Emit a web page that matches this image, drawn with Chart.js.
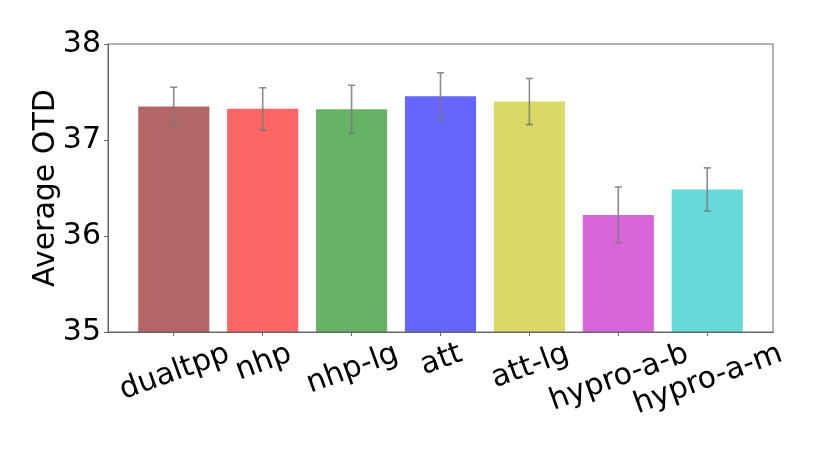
<!DOCTYPE html>
<html>
<head>
<meta charset="utf-8">
<script src="https://cdn.jsdelivr.net/npm/chart.js@4"></script>
<style>
  html, body { margin: 0; padding: 0; background: #fff; }
  #wrap { width: 822px; height: 457px; position: relative; }
</style>
</head>
<body>
<div id="wrap"><canvas id="chart"></canvas></div>
<script>
const models = ['dualtpp', 'nhp', 'nhp-lg', 'att', 'att-lg', 'hypro-a-b', 'hypro-a-m'];
const avgOtd = [37.35, 37.325, 37.32, 37.455, 37.40, 36.22, 36.485];
const otdErr = [0.20, 0.22, 0.25, 0.245, 0.24, 0.29, 0.225];
const barColors = ['#b36666', '#ff6666', '#66b366', '#6666ff', '#d9d966', '#d966d9', '#66d9d9'];
const yTicks = [35, 36, 37, 38];

const FONT = "'DejaVu Sans', sans-serif";
const FONT_SIZE = 30;
const AXIS_COLOR = '#666666';

/* ── error bars + frame ─────────────────────────────────────────── */
const errorBars = {
  id: 'errorBars',
  afterDatasetsDraw(chart) {
    const { ctx, scales: { x, y } } = chart;
    ctx.save();
    ctx.strokeStyle = 'rgba(120,120,120,0.85)';
    ctx.lineWidth = 1.6;
    avgOtd.forEach((v, i) => {
      const px = x.getPixelForValue(i);
      const top = y.getPixelForValue(v + otdErr[i]);
      const bot = y.getPixelForValue(v - otdErr[i]);
      ctx.beginPath();
      ctx.moveTo(px, top); ctx.lineTo(px, bot);
      ctx.moveTo(px - 3.5, top); ctx.lineTo(px + 3.5, top);
      ctx.moveTo(px - 3.5, bot); ctx.lineTo(px + 3.5, bot);
      ctx.stroke();
    });
    ctx.restore();
  },
  afterDraw(chart) {
    const { ctx, chartArea: a } = chart;
    ctx.save();
    ctx.strokeStyle = AXIS_COLOR;
    ctx.lineWidth = 1;
    ctx.strokeRect(a.left, a.top, a.right - a.left, a.bottom - a.top);
    ctx.restore();
  },
};

/* ── rotated category labels (centred like matplotlib rotation=20) ── */
const rotatedLabels = {
  id: 'rotatedLabels',
  afterDraw(chart) {
    const { ctx, scales: { x } } = chart;
    const fs = FONT_SIZE;
    const rot = 20 * Math.PI / 180;
    const h = fs * 1.164;
    const top = chart.chartArea.bottom + 2;
    ctx.save();
    ctx.font = `${fs}px ${FONT}`;
    ctx.fillStyle = '#000';
    ctx.textAlign = 'center';
    ctx.textBaseline = 'alphabetic';
    models.forEach((m, i) => {
      const w = ctx.measureText(m).width;
      const H = w * Math.sin(rot) + h * Math.cos(rot);
      const cx = x.getPixelForValue(i);
      const cy = top + H / 2;
      ctx.save();
      ctx.translate(cx, cy);
      ctx.rotate(-rot);
      ctx.fillText(m, 0, fs * 0.346);
      ctx.restore();
    });
    ctx.restore();
  },
};

new Chart(document.getElementById('chart'), {
  type: 'bar',
  data: {
    datasets: [{
      data: avgOtd.map((v, i) => ({ x: i, y: v })),
      backgroundColor: barColors,
      borderWidth: 0,
      barPercentage: 0.8,
      categoryPercentage: 1,
    }],
  },
  options: {
    responsive: true,
    maintainAspectRatio: false,
    animation: false,
    layout: { padding: { top: 44, right: 49, left: 0, bottom: 0 } },
    plugins: { legend: { display: false }, tooltip: { enabled: false } },
    scales: {
      x: {
        type: 'linear',
        offset: false,
        min: -0.74,
        max: 6.74,
        afterBuildTicks: s => { s.ticks = models.map((_, i) => ({ value: i })); },
        afterFit: s => { s.height = 125; },
        ticks: { callback: () => '' },
        grid: { drawOnChartArea: false, offset: false, tickLength: 4, color: AXIS_COLOR },
        border: { color: AXIS_COLOR },
      },
      y: {
        min: 35,
        max: 38,
        afterBuildTicks: s => { s.ticks = yTicks.map(v => ({ value: v })); },
        afterFit: s => { s.width = 108; },
        ticks: { color: '#000', font: { family: FONT, size: FONT_SIZE }, padding: 3 },
        grid: { drawOnChartArea: false, tickLength: 4, color: AXIS_COLOR },
        border: { color: AXIS_COLOR },
        title: {
          display: true,
          text: 'Average OTD',
          color: '#000',
          font: { family: FONT, size: FONT_SIZE },
          padding: { top: 28, bottom: 0 },
        },
      },
    },
  },
  plugins: [errorBars, rotatedLabels],
});
</script>
</body>
</html>
